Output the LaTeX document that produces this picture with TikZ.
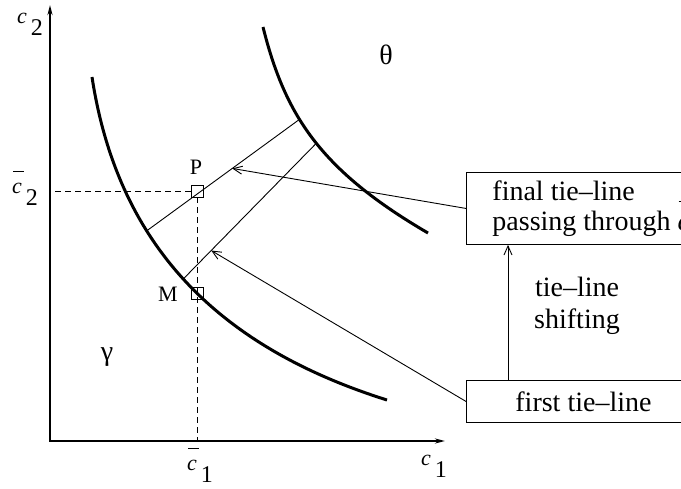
\documentclass[tikz,border=0pt]{standalone}
\usepackage{fontspec}
\setmainfont{Liberation Serif}
\usetikzlibrary{arrows.meta,calc}

% concentration labels: c with a large, lowered index
\newcommand{\conc}[1]{{\itshape c}\hspace{4pt}{\fontsize{24}{24}\selectfont\raisebox{-12pt}{#1}}}
\newcommand{\barc}{\makebox[0pt][l]{\hspace{0.04em}\rule[1.0em]{0.5em}{1pt}}{\itshape c}}
\newcommand{\concbar}[1]{\barc\hspace{4pt}{\fontsize{24}{24}\selectfont\raisebox{-12pt}{#1}}}

\begin{document}
\begin{tikzpicture}[x=1pt,y=-1pt,
    font=\fontsize{28}{30}\selectfont,
    axis/.style={line width=2.5pt,line join=miter,{Stealth[length=10pt,width=5pt]}-{Stealth[length=10pt,width=5pt]}},
    phase/.style={line width=3pt},
    tie/.style={line width=0.9pt},
    guide/.style={line width=0.9pt,dash pattern=on 6pt off 4pt},
    pointer/.style={line width=0.9pt,-{Straight Barb[length=9pt,width=8pt]}},
    marker/.style={draw,line width=0.9pt,minimum size=12pt,inner sep=0pt},
    labelbox/.style={draw,line width=0.9pt,minimum width=234pt,anchor=north west},
    axislabel/.style={font=\fontsize{22}{22}\selectfont,anchor=base west,inner sep=0pt},
    pointlabel/.style={font=\fontsize{22}{22}\selectfont}]
      \clip (0,0) rectangle (681,489);

      % AXES
      \coordinate (O)    at (50,441);
      \coordinate (ytip) at (50,5);
      \coordinate (xtip) at (445,441);
      \draw[axis] (ytip) -- (O) -- (xtip);
      \node[axislabel] (c2)    at (17,24)  {\conc{2}};
      \node[axislabel] (c1)    at (421,465) {\conc{1}};
      \node[axislabel] (c2bar) at (12,194) {\concbar{2}};
      \node[axislabel] (c1bar) at (187,471) {\concbar{1}};

      % PHASE BOUNDARIES (tie-line ends sit on the curves)
      \draw[phase] (92,77) .. controls (117,240) and (212,345) .. (387,400)
        coordinate[pos=0.36] (g1)
        coordinate[pos=0.5]  (g2);
      \draw[phase] (263,27) .. controls (285,115) and (320,170) .. (428,233)
        coordinate[pos=0.4]  (t1)
        coordinate[pos=0.52] (t2);
      \node (theta) at (386,55)  {θ};
      \node (gamma) at (107,357) {γ};

      % TIE-LINES
      \draw[tie] (g1) -- (t1);
      \draw[tie] (g2) -- (t2);
      \coordinate (u) at ($(g1)!0.56!(t1)$);
      \coordinate (l) at ($(g2)!0.21!(t2)$);

      % POINTS
      \node[marker] (P) at (197,191) {};
      \node[marker] (M) at (197,293) {};
      \node[pointlabel] (Plabel) at (196,167) {P};
      \node[pointlabel] (Mlabel) at (168,294) {M};
      \draw[guide] (P.west) -- (P -| O);
      \draw[guide] (P.south) -- (P |- O);

      % BOXES
      \node[labelbox,minimum height=72pt,align=left,inner xsep=26pt] (final) at (466,172)
        {final tie\textendash line\\passing through \barc};
      \node[labelbox,minimum height=42pt] (first) at (466,380)
        {first tie\textendash line};
      \node[align=center,font=\fontsize{28}{32}\selectfont] (shifting) at (577,306)
        {tie\textendash line\\shifting};

      % ARROWS
      \draw[pointer] (final.west) -- (u);
      \draw[pointer] (first.west) -- (l);
      \draw[pointer] ([xshift=42pt]first.north west) -- ([xshift=42pt]final.south west);
\end{tikzpicture}
\end{document}
